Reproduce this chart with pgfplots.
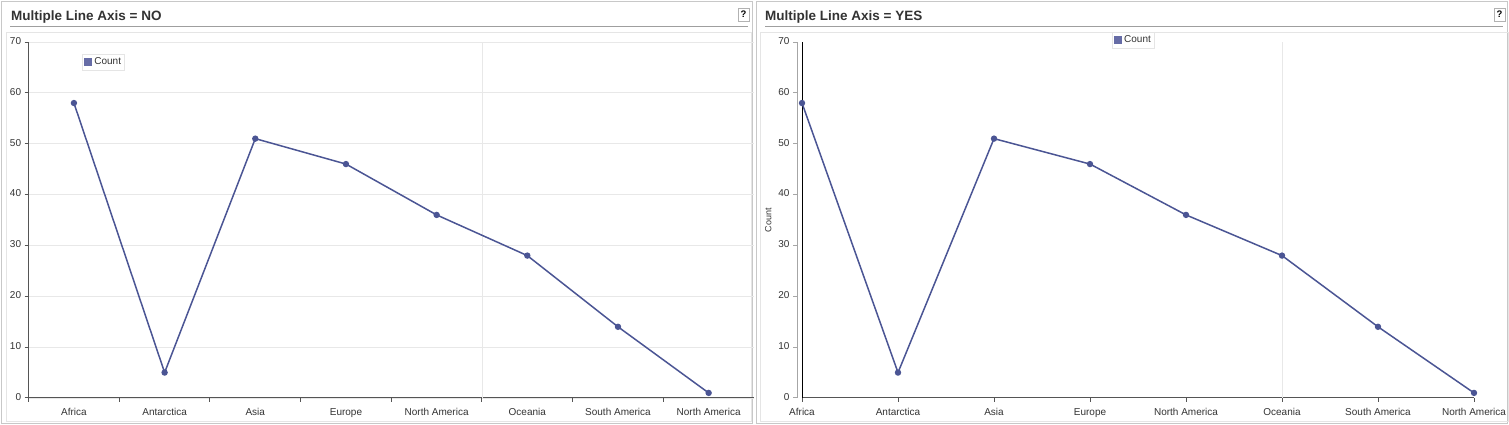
\documentclass[border=0pt]{standalone}
\usepackage{fontspec}
\setmainfont{Liberation Sans}
\usepackage{pgfplots}
\usepackage{pgfplotstable}
\pgfplotsset{compat=1.18}

\definecolor{series}{HTML}{4B5594}
\definecolor{legsq}{HTML}{666CA6}
\definecolor{txt}{HTML}{333333}
\definecolor{gridc}{HTML}{E8E8E8}
\definecolor{axc}{HTML}{555555}
\definecolor{frame}{HTML}{C8C8C8}

\pgfplotstableread{
x y
0 58
1 5
2 51
3 46
4 36
5 28
6 14
7 1
}\datatable

\pgfplotsset{
  panel/.style={
    scale only axis,
    height=356pt,
    ymin=0, ymax=70,
    tick label style={font=\fontsize{10}{12}\selectfont, text=txt},
    xticklabel style={yshift=-1.5pt},
    typeset ticklabels with strut,
    /pgf/number format/assume math mode=true,
    tick align=outside,
    major tick length=4pt,
    minor tick length=4pt,
    axis line style={-, draw=axc, line width=1pt},
    legend image code/.code={\fill[legsq] (0pt,-3.6pt) rectangle (7.2pt,3.6pt);},
    legend style={draw=gray!20, fill=white, font=\fontsize{10}{12}\selectfont, text=txt,
      inner xsep=1.5pt, inner ysep=1.5pt, legend cell align=left},
  },
  catlabels/.style={
    xtick={0,...,7},
    xticklabels={Africa,Antarctica,Asia,Europe,North America,Oceania,South America,North America},
  },
  serstyle/.style={series, line width=1.5pt, mark=*, mark size=2.4pt, mark options={fill=series, draw=none}},
}

\begin{document}
\begin{tikzpicture}

% ---------- panel frames ----------
\begin{scope}[x=1pt,y=1pt]
\fill[white] (0,0) rectangle (1509,425);
\draw[frame, line width=1.6pt] (1.5,1.5) rectangle (752.5,423.5);
\draw[gray!20, line width=0.8pt] (6,4) rectangle (751,393);
\draw[gray!75, line width=1pt] (10,398) -- (748,398);
\node[anchor=base west, font=\bfseries\fontsize{13.5}{16}\selectfont, text=txt, inner sep=0pt] at (11,404.5) {Multiple Line Axis = NO};
\draw[gray!60, fill=white, line width=0.8pt] (738,404) rectangle (749,417);
\node[font=\bfseries\fontsize{9.5}{11}\selectfont, text=black, inner sep=0pt] at (743.5,410.5) {?};

\draw[frame, line width=1.6pt] (756.5,1.5) rectangle (1507.5,423.5);
\draw[gray!20, line width=0.8pt] (760,4) rectangle (1508,393);
\draw[gray!75, line width=1pt] (765,398) -- (1503,398);
\node[anchor=base west, font=\bfseries\fontsize{13.5}{16}\selectfont, text=txt, inner sep=0pt] at (765,404.5) {Multiple Line Axis = YES};
\draw[gray!60, fill=white, line width=0.8pt] (1494,404) rectangle (1505,417);
\node[font=\bfseries\fontsize{9.5}{11}\selectfont, text=black, inner sep=0pt] at (1499.5,410.5) {?};
\end{scope}

% ---------- left chart ----------
\begin{axis}[panel, catlabels,
  at={(28.6pt,27pt)}, anchor=south west, width=725.4pt,
  xmin=-0.5, xmax=7.5,
  axis x line*=bottom, axis y line*=left,
  ytick={0,10,...,70},
  ymajorgrids, major grid style={gridc, line width=0.8pt},
  major x tick style={draw=none},
  minor xtick={-0.5,0.5,...,6.5},
  minor x tick style={draw=axc, line width=1pt},
  major y tick style={draw=axc, line width=1pt},
  legend style={at={(0.0736,0.966)}, anchor=north west},
]
\draw[gridc, line width=0.8pt] (axis cs:4.5,0) -- (axis cs:4.5,70);
\addplot[serstyle] table[x=x, y=y] {\datatable};
\addlegendentry{Count}
\end{axis}

% ---------- right chart: value axis ----------
\begin{axis}[panel,
  at={(797pt,27pt)}, anchor=south west, width=1pt,
  xmin=0, xmax=1,
  hide x axis,
  axis y line*=left,
  axis line style={-, draw=gray!70, line width=1pt},
  ytick={0,10,...,70},
  major y tick style={draw=gray!70, line width=1pt},
  ylabel={Count},
  ylabel style={font=\fontsize{9}{11}\selectfont, text=txt},
]
\end{axis}

% ---------- right chart: line axis ----------
\begin{axis}[panel, catlabels,
  at={(802pt,27pt)}, anchor=south west, width=672pt,
  xmin=0, xmax=7,
  axis x line*=bottom, axis y line*=left,
  ytick=\empty,
  y axis line style={-, draw=black, line width=0.9pt},
  major x tick style={draw=axc, line width=1pt},
  legend style={at={(0.461,1.028)}, anchor=north west},
]
\draw[gridc, line width=0.8pt] (axis cs:5,0) -- (axis cs:5,70);
\addplot[serstyle] table[x=x, y=y] {\datatable};
\addlegendentry{Count}
\end{axis}

\pgfresetboundingbox
\useasboundingbox (0pt,0pt) rectangle (1509pt,425pt);
\end{tikzpicture}
\end{document}
